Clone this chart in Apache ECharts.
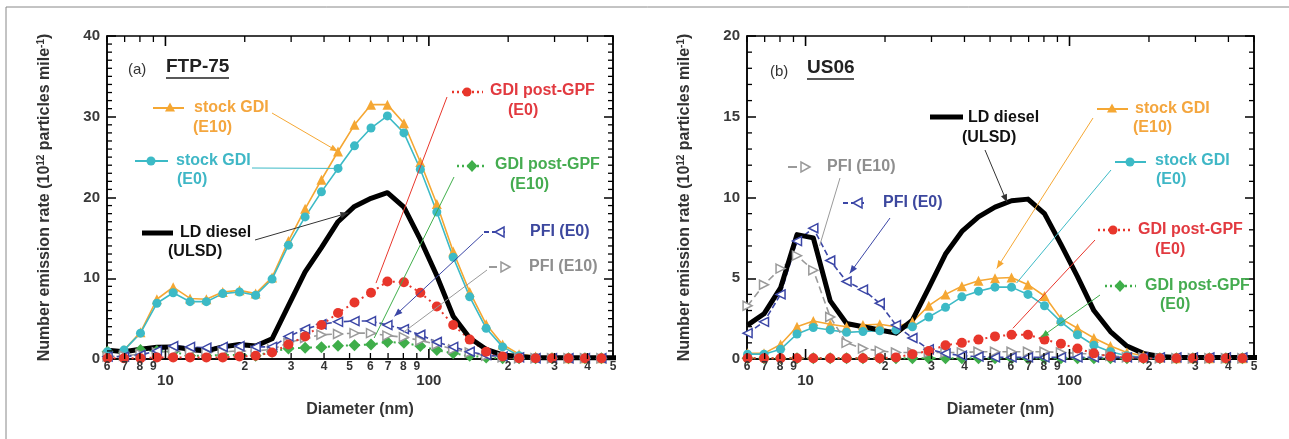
<!DOCTYPE html>
<html><head><meta charset="utf-8">
<script src="https://cdn.jsdelivr.net/npm/echarts@6/dist/echarts.min.js"></script>
<style>html,body{margin:0;padding:0;background:#fff}#c{width:1289px;height:439px}</style>
</head><body><div id="c"></div>
<script>
// ---- data (diameters in nm, rates in 10^12 particles/mile) ----
const diameters = [6.03, 6.96, 8.04, 9.28, 10.7, 12.4, 14.3, 16.5, 19.1, 22.0, 25.4, 29.3, 33.9, 39.1, 45.2, 52.2, 60.3, 69.6, 80.4, 92.8, 107.2, 123.7, 142.9, 165.0, 190.5, 220.0, 254.1, 293.4, 338.8, 391.3, 451.8, 521.7];

// (a) FTP-75
const ftpStockE10 = [0.9, 1.1, 3.3, 7.4, 8.9, 7.5, 7.4, 8.3, 8.5, 8.1, 10.1, 14.6, 18.6, 22.2, 25.7, 29.0, 31.5, 31.5, 29.2, 24.4, 19.2, 13.3, 8.3, 4.3, 1.8, 0.6, 0.3, 0.2, 0.1, 0.1, 0.1, 0.1];
const ftpStockE0  = [0.9, 1.1, 3.2, 6.9, 8.2, 7.1, 7.1, 8.1, 8.3, 7.9, 9.9, 14.1, 17.6, 20.7, 23.6, 26.4, 28.6, 30.1, 28.0, 23.5, 18.2, 12.6, 7.7, 3.8, 1.5, 0.4, 0.2, 0.1, 0.1, 0.1, 0.1, 0.1];
const ftpDiesel   = [1.1, 0.9, 1.2, 1.45, 1.5, 1.2, 1.0, 1.5, 1.8, 1.6, 2.5, 6.6, 10.8, 13.8, 17.0, 18.9, 19.9, 20.6, 18.8, 14.8, 10.3, 5.3, 2.6, 1.2, 0.5, 0.3, 0.15, 0.15, 0.15, 0.15, 0.15, 0.15];
const ftpGpfE0    = [0.1, 0.1, 0.1, 0.2, 0.2, 0.2, 0.2, 0.2, 0.3, 0.4, 0.8, 1.8, 2.8, 4.2, 5.7, 7.0, 8.2, 9.6, 9.5, 8.2, 6.5, 4.2, 2.4, 0.9, 0.3, 0.1, 0.1, 0.1, 0.1, 0.1, 0.1, 0.1];
const ftpGpfE10   = [0.9, 0.8, 1.1, 1.0, 0.9, 0.4, 0.4, 0.5, 0.5, 0.4, 0.9, 1.3, 1.4, 1.45, 1.65, 1.7, 1.8, 2.1, 2.0, 1.6, 1.1, 0.7, 0.4, 0.2, 0.1, 0.1, 0.1, 0.1, 0.1, 0.1, 0.1, 0.1];
const ftpPfiE0    = [0.3, 0.3, 0.5, 1.0, 1.6, 1.5, 1.4, 1.5, 1.6, 1.5, 1.5, 2.8, 3.7, 4.3, 4.6, 4.7, 4.7, 4.2, 3.7, 3.0, 2.1, 1.5, 0.9, 0.5, 0.3, 0.2, 0.1, 0.1, 0.1, 0.1, 0.1, 0.1];
const ftpPfiE10   = [0.3, 0.4, 0.6, 0.8, 1.0, 0.9, 0.8, 0.9, 1.0, 1.0, 1.2, 2.0, 2.6, 3.0, 3.1, 3.2, 3.2, 2.9, 2.7, 2.3, 1.8, 1.2, 0.8, 0.4, 0.2, 0.1, 0.1, 0.1, 0.1, 0.1, 0.1, 0.1];

// (b) US06
const usStockE10 = [0.35, 0.35, 0.9, 2.0, 2.35, 2.15, 2.0, 2.1, 2.15, 2.0, 2.3, 3.3, 4.0, 4.5, 4.85, 5.0, 5.05, 4.6, 3.9, 2.5, 1.9, 1.3, 0.8, 0.4, 0.2, 0.1, 0.05, 0.05, 0.05, 0.05, 0.05, 0.05];
const usStockE0  = [0.3, 0.3, 0.6, 1.55, 1.95, 1.8, 1.65, 1.7, 1.75, 1.8, 2.0, 2.6, 3.2, 3.85, 4.2, 4.45, 4.45, 4.0, 3.3, 2.3, 1.5, 0.85, 0.45, 0.2, 0.1, 0.05, 0.05, 0.05, 0.05, 0.05, 0.05, 0.05];
const usDiesel   = [2.1, 2.8, 4.4, 7.7, 7.5, 3.6, 2.2, 2.0, 1.8, 1.6, 2.4, 4.4, 6.5, 7.9, 8.8, 9.4, 9.8, 9.9, 9.0, 7.1, 5.1, 3.0, 1.7, 0.8, 0.35, 0.15, 0.1, 0.1, 0.1, 0.1, 0.1, 0.1];
const usGpfE0    = [0.05, 0.05, 0.05, 0.05, 0.05, 0.05, 0.05, 0.05, 0.05, 0.1, 0.3, 0.5, 0.85, 1.0, 1.2, 1.4, 1.5, 1.5, 1.2, 0.95, 0.65, 0.35, 0.15, 0.1, 0.05, 0.05, 0.05, 0.05, 0.05, 0.05, 0.05, 0.05];
const usGpfE10   = [0.05, 0.05, 0.05, 0.05, 0.05, 0.05, 0.05, 0.05, 0.05, 0.05, 0.05, 0.05, 0.05, 0.05, 0.05, 0.05, 0.05, 0.05, 0.05, 0.05, 0.05, 0.05, 0.05, 0.05, 0.05, 0.05, 0.05, 0.05, 0.05, 0.05, 0.05, 0.05];
const usPfiE0    = [1.6, 2.3, 4.0, 7.3, 8.1, 6.1, 4.8, 4.3, 3.45, 2.1, 1.3, 0.6, 0.35, 0.2, 0.15, 0.1, 0.1, 0.1, 0.1, 0.1, 0.1, 0.1, 0.1, 0.1, 0.1, 0.1, 0.1, 0.1, 0.1, 0.1, 0.1, 0.1];
const usPfiE10   = [3.3, 4.6, 5.6, 6.4, 5.5, 2.6, 1.0, 0.65, 0.5, 0.4, 0.4, 0.4, 0.4, 0.4, 0.45, 0.45, 0.45, 0.45, 0.45, 0.4, 0.35, 0.3, 0.2, 0.1, 0.1, 0.05, 0.05, 0.05, 0.05, 0.05, 0.05, 0.05];

// axis ticks
const xMinorTicks  = [6, 7, 8, 9, 20, 30, 40, 50, 60, 70, 80, 90, 200, 300, 400, 500];
const xMinorLabels = ['6', '7', '8', '9', '2', '3', '4', '5', '6', '7', '8', '9', '2', '3', '4', '5'];
const xMajorTicks  = [10, 100];
const xMajorLabels = ['10', '100'];

// ---- chart ----
const FONT = "'Liberation Sans', Arial, Helvetica, sans-serif";
const COL = {e10:'#F5A733', e0:'#3CBAC6', diesel:'#000000', gpf0:'#E8362B', gpf10:'#3FAE4A', pfi0:'#3B46A6', pfi10:'#9A9A9A'};
const TXT = {e10:'#F4A63E', e0:'#3FB7C6', diesel:'#111111', gpf0:'#E23A40', gpf10:'#45AC50', pfi0:'#3C479E', pfi10:'#8E8E8E'};
const LEFT_TRI = 'path://M10,0 L0,5 L10,10 Z';
const RIGHT_TRI = 'path://M0,0 L10,5 L0,10 Z';

const panels = [
  {ymax:40, yint:10, ysplit:10, v:{e10:ftpStockE10, e0:ftpStockE0, pfi10:ftpPfiE10, pfi0:ftpPfiE0, gpf10:ftpGpfE10, gpf0:ftpGpfE0, diesel:ftpDiesel}},
  {ymax:20, yint:5, ysplit:5, v:{e10:usStockE10, e0:usStockE0, pfi10:usPfiE10, pfi0:usPfiE0, gpf10:usGpfE10, gpf0:usGpfE0, diesel:usDiesel}}
];
const names = {e10:'stock GDI (E10)', e0:'stock GDI (E0)', pfi10:'PFI (E10)', pfi0:'PFI (E0)', gpf10:'GDI post-GPF (E10)', gpf0:'GDI post-GPF (E0)', diesel:'LD diesel (ULSD)'};
const order = ['gpf10','e10','e0','pfi10','pfi0','gpf0','diesel'];

function seriesStyle(k){
  switch(k){
    case 'e10': return {symbol:'triangle', symbolSize:10, itemStyle:{color:COL.e10}, lineStyle:{color:COL.e10, width:1.6}};
    case 'e0': return {symbol:'circle', symbolSize:9, itemStyle:{color:COL.e0}, lineStyle:{color:COL.e0, width:1.6}};
    case 'diesel': return {symbol:'none', lineStyle:{color:'#000', width:5, join:'round'}};
    case 'gpf0': return {symbol:'circle', symbolSize:10, itemStyle:{color:COL.gpf0}, lineStyle:{color:COL.gpf0, width:2, type:[2,4]}};
    case 'gpf10': return {symbol:'diamond', symbolSize:12, itemStyle:{color:COL.gpf10}, lineStyle:{color:COL.gpf10, width:2, type:[2,4]}};
    case 'pfi0': return {symbol:LEFT_TRI, symbolSize:9, itemStyle:{color:'#fff', borderColor:COL.pfi0, borderWidth:1.5}, lineStyle:{color:COL.pfi0, width:1.6, type:[6,3]}};
    case 'pfi10': return {symbol:RIGHT_TRI, symbolSize:9, itemStyle:{color:'#fff', borderColor:COL.pfi10, borderWidth:1.5}, lineStyle:{color:COL.pfi10, width:1.6, type:[7,4]}};
  }
}

const grid = [], xAxis = [], yAxis = [], series = [];
const gridPos = [{left:107, top:36, width:506, height:323}, {left:747, top:36, width:507, height:323}];
panels.forEach((p, g) => {
  grid.push(Object.assign({show:true, borderColor:'#000', borderWidth:1.5, backgroundColor:'transparent'}, gridPos[g]));
  xAxis.push({type:'log', logBase:10, gridIndex:g, min:6, max:500,
    axisLine:{show:true, onZero:false, lineStyle:{color:'#000', width:1.5}},
    axisTick:{show:false}, axisLabel:{show:false}, splitLine:{show:false}, minorTick:{show:false},
    name:'Diameter (nm)', nameLocation:'middle', nameGap:43,
    nameTextStyle:{fontFamily:FONT, fontWeight:'bold', fontSize:16, color:'#333'}});
  const yBase = {type:'value', gridIndex:g, min:0, max:p.ymax, interval:p.yint,
    axisLine:{show:true, onZero:false, lineStyle:{color:'#000', width:1.5}},
    axisTick:{show:true, inside:true, length:9, lineStyle:{color:'#000', width:1.5}},
    minorTick:{show:false}, splitLine:{show:false}, minorSplitLine:{show:false}};
  yAxis.push(Object.assign({}, yBase, {position:'left',
    axisLabel:{show:true, margin:7, fontFamily:FONT, fontWeight:'bold', fontSize:15, color:'#3a3a3a'},
    name:'Number emission rate (10{sup|12} particles mile{sup|-1})', nameLocation:'middle', nameRotate:90, nameGap:54,
    nameTextStyle:{fontFamily:FONT, fontWeight:'bold', fontSize:16, color:'#333',
      rich:{sup:{fontFamily:FONT, fontWeight:'bold', fontSize:10, color:'#333', verticalAlign:'top', padding:[0,0,7,0]}}}}));
  yAxis.push(Object.assign({}, yBase, {position:'right', axisLabel:{show:false}}));
  order.forEach(k => {
    series.push(Object.assign({type:'line', name:names[k], xAxisIndex:g, yAxisIndex:g*2, clip:true,
      showAllSymbol:true, animation:false, emphasis:{disabled:true},
      data: diameters.map((d, i) => [d, p.v[k][i]])}, seriesStyle(k)));
  });
});

const chart = echarts.init(document.getElementById('c'));
chart.setOption({animation:false, grid, xAxis, yAxis, series});

// ---- annotations & log ticks (positions from the library's scales) ----
const G = [];
function P(g, d, v){ return chart.convertToPixel({seriesIndex: g*order.length}, [d, v]); }
function X(g, d){ return chart.convertToPixel({xAxisIndex: g}, d); }
function line(x1,y1,x2,y2,stroke,w,dash){ G.push({type:'line', z:20, shape:{x1,y1,x2,y2}, style:{stroke, lineWidth:w, lineDash:dash||null}}); }
function text(t,x,y,fill,size,weight,align){ G.push({type:'text', z:21, x, y, style:{text:t, fill, fontFamily:FONT, fontSize:size, fontWeight:weight||'bold', align:align||'left', verticalAlign:'middle'}}); }
function poly(points, fill, stroke, w){ G.push({type:'polygon', z:21, shape:{points}, style:{fill, stroke:stroke||null, lineWidth:w||0}}); }
function sym(kind, cx, cy, k){
  const c = COL[k];
  if (kind==='circle') G.push({type:'circle', z:21, shape:{cx, cy, r:4.5}, style:{fill:c}});
  if (kind==='tri') poly([[cx,cy-5.5],[cx-5,cy+3.5],[cx+5,cy+3.5]], c);
  if (kind==='diamond') poly([[cx,cy-6],[cx+5.5,cy],[cx,cy+6],[cx-5.5,cy]], c);
  if (kind==='ltri') poly([[cx-5,cy],[cx+4,cy-5],[cx+4,cy+5]], '#fff', c, 1.5);
  if (kind==='rtri') poly([[cx+5,cy],[cx-4,cy-5],[cx-4,cy+5]], '#fff', c, 1.5);
}
function arrow(g, from, to, color, head){
  const e = P(g, to[0], to[1]);
  line(from[0], from[1], e[0], e[1], color, 1);
  if (head){
    const a = Math.atan2(e[1]-from[1], e[0]-from[0]), L = 8, W = 3.2;
    const bx = e[0]-L*Math.cos(a), by = e[1]-L*Math.sin(a);
    poly([[e[0],e[1]],[bx+W*Math.sin(a), by-W*Math.cos(a)],[bx-W*Math.sin(a), by+W*Math.cos(a)]], color);
  }
}

panels.forEach((p, g) => {
  const yb = P(g, 10, 0)[1], yt = P(g, 10, p.ymax)[1];
  const xl = X(g, 6), xr = X(g, 500);
  // log-axis ticks and labels (top and bottom, inside)
  xMinorTicks.forEach((t, i) => {
    const x = X(g, t);
    line(x, yb, x, yb-6, '#000', 1.3); line(x, yt, x, yt+6, '#000', 1.3);
    text(xMinorLabels[i], x, yb+8, '#333', 12, 'bold', 'center');
  });
  xMajorTicks.forEach((t, i) => {
    const x = X(g, t);
    line(x, yb, x, yb-10, '#000', 1.6); line(x, yt, x, yt+10, '#000', 1.6);
    text(xMajorLabels[i], x, yb+22, '#333', 15, 'bold', 'center');
  });
  // y minor ticks (both sides, inside)
  const step = p.yint / p.ysplit;
  for (let k = 1; k * step < p.ymax; k++) {
    if (k % p.ysplit === 0) continue;
    const y = P(g, 10, k * step)[1];
    line(xl, y, xl+5, y, '#000', 1.3); line(xr, y, xr-5, y, '#000', 1.3);
  }
});

// panel titles
text('(a)', 128, 70, '#333', 15, 'normal');
text('FTP-75', 166, 67, '#222', 19, 'bold'); line(166, 78, 229, 78, '#222', 1.5);
text('(b)', 770, 72, '#333', 15, 'normal');
text('US06', 807, 68, '#222', 19, 'bold'); line(807, 79, 854, 79, '#222', 1.5);

// left panel labels
line(153,108,184,108,COL.e10,2); sym('tri',170,108,'e10');
text('stock GDI',194,108,TXT.e10,16); text('(E10)',193,128,TXT.e10,16);
arrow(0,[272,113],[45.2,25.7],COL.e10,true);

line(135,161,168,161,COL.e0,2); sym('circle',151,161,'e0');
text('stock GDI',176,161,TXT.e0,16); text('(E0)',177,180,TXT.e0,16);
arrow(0,[252,168],[45.2,23.6],COL.e0,false);

line(142,233,173,233,'#000',5);
text('LD diesel',180,233,TXT.diesel,16); text('(ULSD)',168,252,TXT.diesel,16);
arrow(0,[255,240],[49.5,18.1],'#333',true);

line(452,92,483,92,COL.gpf0,2.5,[2,3]); sym('circle',467,92,'gpf0');
text('GDI post-GPF',490,91,TXT.gpf0,16); text('(E0)',508,111,TXT.gpf0,16);
arrow(0,[447,97],[63,9.4],COL.gpf0,false);

line(457,166,486,166,COL.gpf10,2.5,[2,3]); sym('diamond',472,166,'gpf10');
text('GDI post-GPF',495,165,TXT.gpf10,16); text('(E10)',510,185,TXT.gpf10,16);
arrow(0,[454,177],[62,2.6],COL.gpf10,false);

line(484,232,506,232,COL.pfi0,2,[5,3]); sym('ltri',500,232,'pfi0');
text('PFI (E0)',530,232,TXT.pfi0,16);
arrow(0,[483,234],[74,5.3],COL.pfi0,true);

line(489,267,497,267,COL.pfi10,2); sym('rtri',505,267,'pfi10');
text('PFI (E10)',529,267,TXT.pfi10,16);
arrow(0,[487,270],[80,3.3],COL.pfi10,false);

// right panel labels
line(930,117,963,117,'#000',5);
text('LD diesel',968,118,TXT.diesel,16); text('(ULSD)',962,138,TXT.diesel,16);
arrow(1,[985,150],[58,9.7],'#333',true);

line(1097,109,1128,109,COL.e10,2); sym('tri',1112,109,'e10');
text('stock GDI',1135,109,TXT.e10,16); text('(E10)',1133,128,TXT.e10,16);
arrow(1,[1093,118],[53,5.6],COL.e10,true);

line(1115,162,1146,162,COL.e0,2); sym('circle',1130,162,'e0');
text('stock GDI',1155,161,TXT.e0,16); text('(E0)',1156,180,TXT.e0,16);
arrow(1,[1111,170],[63,4.7],COL.e0,false);

line(1098,230,1130,230,COL.gpf0,2.5,[2,3]); sym('circle',1113,230,'gpf0');
text('GDI post-GPF',1138,230,TXT.gpf0,16); text('(E0)',1155,250,TXT.gpf0,16);
arrow(1,[1095,240],[61,1.9],COL.gpf0,false);

line(1105,286,1136,286,COL.gpf10,2.5,[2,3]); sym('diamond',1120,286,'gpf10');
text('GDI post-GPF',1145,286,TXT.gpf10,16); text('(E0)',1160,305,TXT.gpf10,16);
arrow(1,[1100,295],[78,1.35],COL.gpf10,true);

line(788,167,797,167,COL.pfi10,2); sym('rtri',805,167,'pfi10');
text('PFI (E10)',827,167,TXT.pfi10,16);
arrow(1,[840,178],[11.3,7.0],COL.pfi10,false);

line(843,203,864,203,COL.pfi0,2,[5,3]); sym('ltri',858,203,'pfi0');
text('PFI (E0)',883,203,TXT.pfi0,16);
arrow(1,[890,218],[14.7,5.3],COL.pfi0,true);

// outer frame
line(6,7,1289,7,'#888',1); line(6,7,6,439,'#888',1);

chart.setOption({graphic: G});
</script></body></html>
